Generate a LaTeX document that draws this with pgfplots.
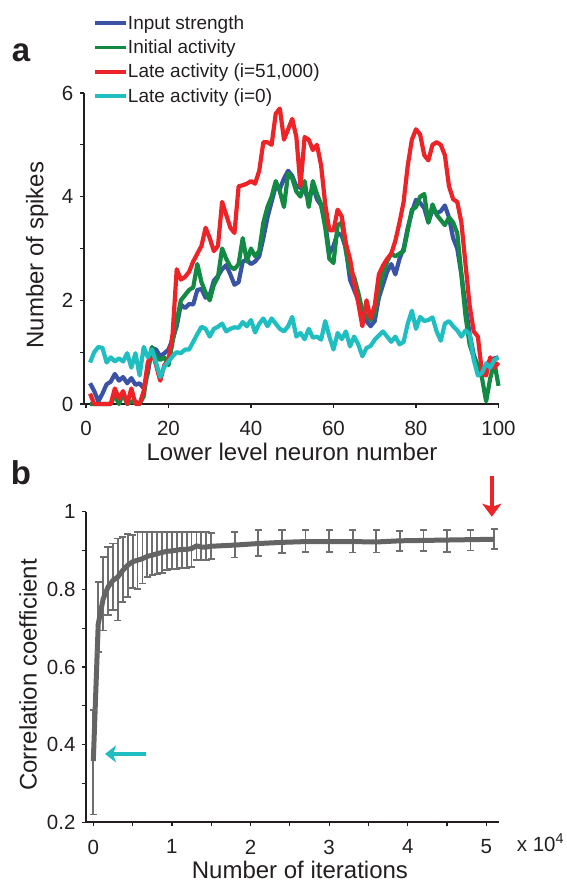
\documentclass[border=0pt]{standalone}
\usepackage{fontspec}
\setmainfont{Liberation Sans}
\usepackage{pgfplots}
\pgfplotsset{compat=1.18}
\usepackage{pgfplotstable}
\usetikzlibrary{arrows.meta}

\definecolor{cblue}{HTML}{3A53A4}
\definecolor{cgreen}{HTML}{138A43}
\definecolor{cred}{HTML}{EE2328}
\definecolor{ccyan}{HTML}{1FBFC1}
\definecolor{cgrayline}{HTML}{646464}
\definecolor{cgraybar}{HTML}{6E6E6E}
\definecolor{ink}{HTML}{231F20}

\pgfplotstableread{
n blue green red cyan
1 0.40 0.00 0.20 0.80
2 0.25 0.00 0.00 1.00
3 0.05 0.00 0.00 1.10
4 0.20 0.00 0.00 1.08
5 0.38 0.00 0.00 0.80
6 0.43 0.00 0.00 0.90
7 0.58 0.17 0.30 0.82
8 0.45 0.00 0.10 0.88
9 0.52 0.20 0.25 0.82
10 0.40 0.00 0.00 0.98
11 0.50 0.05 0.30 0.70
12 0.37 0.05 0.00 0.98
13 0.40 0.00 0.00 0.55
14 0.30 0.15 0.25 1.10
15 0.60 0.70 0.80 0.90
16 1.08 1.10 1.00 1.05
17 1.05 0.90 0.75 0.80
18 0.92 0.85 0.45 0.52
19 0.98 0.90 0.75 0.72
20 1.05 0.75 0.85 0.82
21 1.25 1.20 1.35 0.92
22 1.50 1.60 2.60 1.00
23 1.92 2.00 2.40 0.98
24 1.85 2.10 2.45 1.05
25 1.93 2.20 2.55 1.05
26 1.92 2.25 2.75 1.20
27 2.20 2.70 2.90 1.35
28 2.22 2.35 3.05 1.49
29 2.05 2.15 3.40 1.45
30 2.10 2.00 3.20 1.30
31 2.38 2.30 2.95 1.45
32 2.47 2.45 3.05 1.49
33 2.60 3.00 3.90 1.55
34 2.68 2.80 3.65 1.40
35 2.50 2.65 3.40 1.45
36 2.30 2.60 3.30 1.48
37 2.35 2.70 4.20 1.47
38 2.75 3.20 4.22 1.58
39 2.78 2.75 4.25 1.50
40 2.70 3.00 4.30 1.62
41 2.75 2.85 4.25 1.38
42 2.85 2.95 4.50 1.55
43 3.20 3.50 5.05 1.65
44 3.60 3.80 5.05 1.50
45 3.90 4.00 5.00 1.65
46 4.20 4.30 5.60 1.55
47 4.15 4.10 5.70 1.45
48 4.35 3.80 5.10 1.40
49 4.50 4.45 5.30 1.50
50 4.40 4.35 5.50 1.68
51 4.20 4.10 5.15 1.30
52 4.17 4.00 4.20 1.37
53 4.10 4.30 5.15 1.25
54 3.95 3.80 5.10 1.45
55 4.20 4.30 4.90 1.28
56 3.95 4.05 5.00 1.30
57 3.83 3.85 4.60 1.24
58 3.50 3.40 3.85 1.60
59 2.90 2.80 3.35 1.30
60 3.05 2.72 3.35 1.05
61 3.30 3.45 3.75 1.37
62 3.25 3.50 3.62 1.25
63 3.00 2.95 3.10 1.40
64 2.40 2.55 2.80 1.11
65 2.20 2.45 2.35 1.30
66 2.00 2.15 1.95 1.15
67 1.80 1.80 1.50 0.92
68 1.60 1.70 2.00 1.08
69 1.50 1.62 1.65 1.12
70 1.60 1.75 1.90 1.24
71 2.05 2.20 2.50 1.32
72 2.30 2.50 2.67 1.40
73 2.55 2.75 2.80 1.30
74 2.70 2.90 2.90 1.20
75 2.50 2.85 3.15 1.30
76 2.80 2.90 3.50 1.15
77 3.00 2.95 3.90 1.20
78 3.40 3.35 4.60 1.55
79 3.70 3.75 5.10 1.80
80 3.94 3.80 5.30 1.45
81 3.88 4.00 5.20 1.68
82 3.78 4.05 4.80 1.60
83 3.50 3.50 4.70 1.62
84 3.75 3.85 5.00 1.67
85 3.68 3.65 5.05 1.40
86 3.72 3.55 5.00 1.22
87 3.83 3.45 4.80 1.55
88 3.60 3.60 4.20 1.60
89 3.20 3.50 3.95 1.50
90 3.00 3.30 3.90 1.42
91 2.50 2.50 3.50 1.30
92 1.90 1.70 2.70 1.42
93 1.35 1.15 1.90 1.35
94 0.95 0.90 1.40 0.85
95 0.72 0.75 1.30 0.55
96 0.55 0.50 0.60 0.60
97 0.75 0.05 0.55 0.78
98 0.85 0.50 0.90 0.70
99 0.88 0.80 0.70 0.85
100 0.90 0.35 0.80 0.90
}\spikes

\pgfplotstableread{
x y ep em top bot
0 0.358 0.131 0.138 0.489 0.220
625 0.710 0.109 0.072 0.819 0.638
1250 0.775 0.109 0.081 0.884 0.694
1875 0.806 0.104 0.073 0.910 0.733
2500 0.823 0.095 0.077 0.918 0.746
3125 0.832 0.099 0.112 0.931 0.720
3750 0.849 0.086 0.082 0.935 0.767
4375 0.862 0.080 0.082 0.942 0.780
5000 0.871 0.069 0.067 0.940 0.804
5625 0.875 0.072 0.075 0.947 0.800
6250 0.879 0.068 0.064 0.947 0.815
6875 0.885 0.062 0.053 0.947 0.832
7500 0.888 0.059 0.052 0.947 0.836
8125 0.892 0.055 0.052 0.947 0.840
8750 0.895 0.052 0.053 0.947 0.842
9375 0.898 0.049 0.049 0.947 0.849
10000 0.899 0.048 0.046 0.947 0.853
10625 0.901 0.046 0.048 0.947 0.853
11250 0.903 0.044 0.047 0.947 0.856
11875 0.903 0.044 0.047 0.947 0.856
12500 0.905 0.042 0.047 0.947 0.858
13125 0.912 0.035 0.037 0.947 0.875
13750 0.909 0.038 0.034 0.947 0.875
14375 0.909 0.038 0.034 0.947 0.875
15000 0.911 0.034 0.033 0.945 0.878
18000 0.914 0.033 0.032 0.947 0.882
21000 0.918 0.035 0.033 0.953 0.885
24000 0.921 0.032 0.027 0.953 0.894
27000 0.923 0.030 0.026 0.953 0.897
30000 0.923 0.030 0.026 0.953 0.897
33000 0.923 0.030 0.028 0.953 0.895
36000 0.922 0.030 0.027 0.952 0.895
39000 0.925 0.026 0.027 0.951 0.898
42000 0.926 0.027 0.028 0.953 0.898
45000 0.927 0.026 0.030 0.953 0.897
48000 0.928 0.025 0.028 0.953 0.900
51000 0.929 0.026 0.025 0.955 0.904
}\corr

\pgfplotsset{
  panel/.style={
    scale only axis,
    axis x line*=bottom, axis y line*=left,
    axis line style={line width=1.6pt, draw=ink},
    tick align=outside,
    major tick length=4pt, minor tick length=4pt,
    every tick/.style={line width=1.2pt, draw=ink},
    ticklabel style={font=\fontsize{20.5}{24}\selectfont, text=ink},
    xticklabel style={yshift=-10pt},
    yticklabel style={xshift=-3pt},
    /pgf/number format/assume math mode=true,
    label style={font=\fontsize{24}{28}\selectfont, text=ink},
    clip=false,
  }
}

\begin{document}
\begin{tikzpicture}
\path[use as bounding box] (0,0) rectangle (566pt,885pt);

% ---------- panel a ----------
\begin{axis}[panel,
  at={(83.9pt,481pt)}, anchor=south west,
  width=414.6pt, height=311pt,
  xmin=-0.5, xmax=100, ymin=0, ymax=6,
  xtick={0,20,40,60,80,100},
  ytick={0,2,4,6}, minor ytick={1,3,5},
  xlabel={Lower level neuron number},
  ylabel={Number of spikes},
  xlabel style={at={(axis description cs:0.502,-0.154)}, anchor=center},
  ylabel style={at={(axis description cs:-0.113,0.479)}, anchor=center},
  legend style={at={(axis description cs:0.0219,1.2492)}, anchor=north west,
    draw=none, fill=none, inner sep=0pt, row sep=9pt,
    font=\fontsize{19}{22}\selectfont, text=ink,
    nodes={inner sep=0pt},
    /tikz/every even column/.append style={column sep=4pt}},
  legend cell align=left,
  legend image code/.code={\draw[#1, line width=3.8pt] (0pt,0pt) -- (31pt,0pt);},
]
\addplot[cblue, line width=4.2pt, mark=none, line join=round] table[x=n, y=blue] {\spikes};
\addlegendentry{Input strength}
\addplot[cgreen, line width=4.2pt, mark=none, line join=round] table[x=n, y=green] {\spikes};
\addlegendentry{Initial activity}
\addplot[cred, line width=4.2pt, mark=none, line join=round] table[x=n, y=red] {\spikes};
\addlegendentry{Late activity (i=51,000)}
\addplot[ccyan, line width=4.2pt, mark=none, line join=round] table[x=n, y=cyan] {\spikes};
\addlegendentry{Late activity (i=0)}
\node[anchor=base, font=\fontsize{33}{36}\selectfont\bfseries, text=ink]
  at (axis description cs:-0.1517,1.0997) {a};
\end{axis}

% ---------- panel b ----------
\begin{axis}[panel,
  at={(86pt,62.7pt)}, anchor=south west,
  width=413pt, height=310.6pt,
  xmin=-929, xmax=51615, ymin=0.2, ymax=1.0,
  scaled x ticks=false,
  xtick={0,10000,20000,30000,40000,50000},
  xticklabels={0,1,2,3,4,5},
  minor xtick={5000,15000,25000,35000,45000},
  ytick={0.2,0.4,0.6,0.8,1},
  minor ytick={0.3,0.5,0.7,0.9},
  yticklabel style={/pgf/number format/fixed},
  xlabel={Number of iterations},
  ylabel={Correlation coefficient},
  xlabel style={at={(axis description cs:0.518,-0.1536)}, anchor=center},
  ylabel style={at={(axis description cs:-0.1404,0.474)}, anchor=center},
]
% error bars (vertical strokes)
\addplot[cgraybar, line width=1.8pt, mark=none, forget plot,
  error bars/.cd, y dir=both, y explicit, error mark=none,
  error bar style={line width=1.8pt, cgraybar}]
  table[x=x, y=y, y error plus=ep, y error minus=em] {\corr};
% caps
\addplot[cgraybar, only marks, mark=-, mark size=3.6pt,
  mark options={line width=1.8pt, cgraybar}, forget plot]
  table[x=x, y=top] {\corr};
\addplot[cgraybar, only marks, mark=-, mark size=3.6pt,
  mark options={line width=1.8pt, cgraybar}, forget plot]
  table[x=x, y=bot] {\corr};
% mean curve
\addplot[cgrayline, line width=5pt, mark=none, line join=round] table[x=x, y=y] {\corr};
\draw[ccyan, line width=4pt, -{Stealth[length=11pt,width=17pt,inset=3pt]}]
  (axis cs:6700,0.376) -- (axis cs:1490,0.376);
\draw[cred, line width=4pt, -{Stealth[length=13pt,width=19pt,inset=3pt]}]
  (axis cs:50700,1.092) -- (axis cs:50700,0.987);
\node[anchor=base west, font=\fontsize{20.5}{24}\selectfont, text=ink]
  at (axis description cs:1.0346,-0.0924) {x 10\textsuperscript{4}};
\node[anchor=base, font=\fontsize{33}{36}\selectfont\bfseries, text=ink]
  at (axis description cs:-0.1574,1.086) {b};
\end{axis}
\end{tikzpicture}
\end{document}
